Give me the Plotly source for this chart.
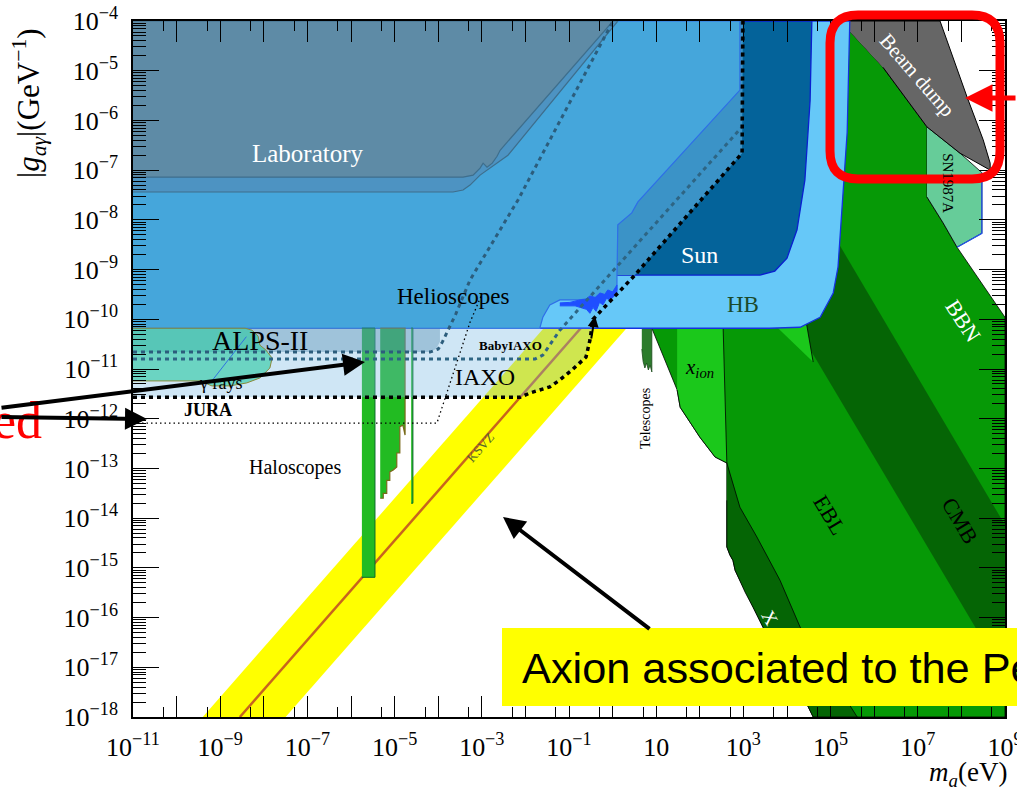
import numpy as np
import plotly.graph_objects as go

W, H = 1017, 793
ML, MR, MT, MB = 133, 12, 21, 76

# ---------------- data (log10 m_a [eV], log10 |g| [GeV^-1]) ----------------
lab1_m = [-11, 0.01, -2.58, -2.65, -2.76, -2.88, -2.97, -3.04, -3.20, -3.43, -11]
lab1_g = [-4, -4, -6.60, -6.72, -6.86, -6.94, -6.86, -6.96, -7.10, -7.14, -7.14]
lab2_m = [-11, 0.12, -2.40, -3.04, -3.27, -3.43, -3.66, -11]
lab2_g = [-4, -4, -6.70, -7.10, -7.30, -7.40, -7.44, -7.44]

helio_m = [-11, 2.92, 2.92, 0.58, 0.44, 0.12, 0.10, 0.10, -0.29, -0.75, -1.21, -1.44, -1.60, -1.67, -11]
helio_g = [-4, -4, -5.39, -7.64, -7.86, -8.10, -9.15, -9.41, -9.55, -9.61, -9.61, -9.71, -9.96, -10.18, -10.18]

sun_m = [0.0, 4.57, 4.53, 4.41, 4.23, 4.00, 3.72, 3.38, 0.0]
sun_g = [-4, -4, -5.6, -7.2, -8.2, -8.77, -9.03, -9.11, -9.11]

mid_m = [0.10, 0.51, 2.97, 2.99, 2.92, 2.92, 0.58, 0.44, 0.12]
mid_g = [-9.11, -9.11, -6.66, -4, -4, -5.39, -7.64, -7.86, -8.10]

hb_m = [-11, 5.44, 5.38, 5.28, 5.17, 5.06, 4.76, 4.30, 3.6, -11]
hb_g = [-4, -4, -6.24, -7.6, -8.95, -9.47, -9.96, -10.16, -10.18, -10.18]

noise_m = [-1.21, -0.98, -0.75, -0.62, -0.52, -0.40, -0.29, -0.18, -0.11, 0.0, 0.10, 0.10,
           0.02, -0.06, -0.14, -0.22, -0.30, -0.38, -0.45, -0.52, -0.60, -0.68, -0.86, -1.21]
noise_g = [-9.67, -9.66, -9.61, -9.60, -9.53, -9.56, -9.47, -9.50, -9.41, -9.45, -9.31, -9.47,
           -9.55, -9.61, -9.58, -9.71, -9.66, -9.84, -9.76, -9.88, -9.80, -9.78, -9.73, -9.73]

green_m = [4.0, 5.22, 6.20, 7.21, 7.21, 7.58, 7.90, 9, 9, 4.60, 4.41, 4.18, 3.91, 3.72, 3.56, 3.45,
           3.22, 3.04, 2.92, 2.81, 2.76, 2.69, 2.62, 2.62, 2.62, 2.35, 2.00, 1.55, 1.48, 0.90, 0.90]
green_g = [-4, -4, -4.93, -6.13, -7.54, -8.06, -8.55, -9.96, -18, -18, -17.66, -17.36, -16.96, -16.66,
           -16.39, -16.19, -15.79, -15.49, -15.25, -15.05, -14.85, -14.74, -14.58, -13.64, -12.89,
           -12.77, -12.37, -11.77, -11.42, -10.18, -9.5]

cmb_m = [4.5, 5.10, 9, 9, 4.23, 4.0]
cmb_g = [-8.35, -8.35, -14.14, -17.2, -10.16, -9.8]

xray_m = [2.62, 2.92, 3.31, 3.84, 4.30, 5.61, 4.60, 4.41, 4.18, 3.91, 3.72, 3.56, 3.45, 3.22,
          3.04, 2.92, 2.81, 2.76, 2.69, 2.62, 2.62]
xray_g = [-12.89, -13.78, -14.38, -15.25, -16.19, -18, -18, -17.66, -17.36, -16.96, -16.66, -16.39,
          -16.19, -15.79, -15.49, -15.25, -15.05, -14.85, -14.74, -14.58, -13.64]

xion_m = [1.48, 2.53, 2.62, 2.35, 2.00, 1.55, 1.48]
xion_g = [-10.0, -10.0, -12.89, -12.77, -12.37, -11.77, -11.42]

sliver_m = [3.70, 4.45, 4.60]
sliver_g = [-10.10, -10.10, -10.86]

tel_m = [0.67, 0.90, 0.90, 0.86, 0.82, 0.78, 0.74, 0.70, 0.67]
tel_g = [-10.0, -10.0, -11.06, -10.92, -11.02, -10.88, -10.98, -10.85, -10.6]

sn_m = [7.21, 7.97, 8.47, 8.47, 7.90, 7.58, 7.21]
sn_g = [-6.13, -6.66, -7.05, -8.27, -8.55, -8.06, -7.54]

beam_m = [5.22, 7.51, 8.13, 8.50, 8.66, 8.66, 7.97, 7.21, 6.20]
beam_g = [-4, -4, -5.53, -6.39, -6.86, -7.00, -6.66, -6.13, -4.93]

qcd_m = [-9.4, -7.5, 0.5, -1.4]
qcd_g = [-18, -18, -10.0, -10.0]
ksvz_m = [-8.55, -0.55]
ksvz_g = [-18, -10.0]

s1_m = [-5.75, -5.45, -5.45, -5.75]
s1_g = [-10.18, -10.18, -15.19, -15.19]
s2_m = [-5.33, -4.76, -4.76, -4.81, -4.88, -4.88, -4.95, -4.95, -5.03, -5.11, -5.11, -5.18, -5.18, -5.26, -5.26, -5.33]
s2_g = [-10.18, -10.18, -12.33, -12.13, -12.16, -12.69, -12.69, -12.97, -13.03, -13.07, -13.24, -13.24, -13.50, -13.50, -13.60, -13.60]
s3_m = [-4.62, -4.58, -4.58, -4.62]
s3_g = [-10.18, -10.18, -13.70, -13.70]

alps_fill_m = [-11, -3.96, -3.96, -4.05, -4.19, -11]
alps_fill_g = [-10.18, -10.18, -10.45, -10.60, -10.66, -10.66]

iaxo_fill_m = [-11, -0.42, -0.45, -0.52, -0.61, -0.93, -1.21, -1.44, -1.89, -2.12, -11]
iaxo_fill_g = [-10.18, -10.18, -10.08, -10.42, -10.76, -11.02, -11.22, -11.36, -11.48, -11.57, -11.57]

gam_m = [-11, -8.43, -8.27, -8.13, -8.09, -7.95, -7.81, -7.86, -8.09, -8.39, -8.78, -9.19, -9.46, -11]
gam_g = [-10.18, -10.18, -10.22, -10.34, -10.52, -10.62, -10.78, -10.98, -11.18, -11.28, -11.34, -11.34, -11.24, -11.24]

alps_m = [-11, -4.19, -4.0, -3.9, -3.6, -3.27, -2.17, 0.01]
alps_g = [-10.66, -10.66, -10.6, -10.45, -9.9, -9.21, -7.60, -4]
baby_m = [-11, -1.78, -1.60, -1.21, 2.97, 2.97]
baby_g = [-10.80, -10.80, -10.72, -10.22, -6.13, -4]
iaxo_m = [-11, -2.12, -1.89, -1.44, -1.21, -0.93, -0.61, -0.52, -0.45, 0.47, 2.97, 2.99]
iaxo_g = [-11.57, -11.57, -11.48, -11.36, -11.22, -11.02, -10.76, -10.42, -10.0, -9.15, -6.66, -4]
jura_m = [-11, -4.03, -3.27, -3.0]
jura_g = [-12.09, -12.09, -10.06, -9.5]

x_exponents = list(range(-11, 10))
y_exponents = list(range(-18, -3))

# region labels: text, log m, log g, angle, color, size
labels = [
    ("Laboratory", -6.99, -6.66, 0, "white", 25),
    ("Helioscopes", -3.66, -9.55, 0, "black", 23),
    ("Sun", 2.00, -8.71, 0, "white", 24),
    ("HB", 2.99, -9.71, 0, "#1b4a2a", 23),
    ("ALPS-II", -8.09, -10.42, 0, "black", 28),
    ("<b>BabyIAXO</b>", -2.35, -10.52, 0, "black", 13),
    ("IAXO", -2.93, -11.16, 0, "black", 24),
    ("<b>JURA</b>", -9.28, -11.83, 0, "black", 18),
    ("γ rays", -9.0, -11.28, 0, "black", 18),
    ("Haloscopes", -7.28, -12.99, 0, "black", 20),
    ("KSVZ", -3.04, -12.57, -48.7, "#55662a", 13),
    ("Telescopes", 0.74, -11.99, -90, "black", 14),
    ("<i>x</i><sub><i>ion</i></sub>", 2.00, -10.98, 0, "black", 21),
    ("EBL", 4.99, -13.94, 59, "black", 22),
    ("CMB", 7.97, -14.04, 59, "black", 22),
    ("BBN", 8.04, -10.02, 57, "white", 22),
    ("X", 3.60, -16.0, 60, "white", 19),
    ("Beam dump", 6.98, -5.09, 49, "white", 21),
    ("SN1987A", 7.69, -7.26, 90, "black", 15),
]


def V(a):
    return [10.0 ** v for v in a]


fig = go.Figure()


def poly(m, g, fill, line="rgba(0,0,0,0)", lw=0.0):
    fig.add_trace(go.Scatter(x=V(m), y=V(g), mode="lines", fill="toself", fillcolor=fill,
                             line=dict(color=line, width=lw), hoverinfo="skip", showlegend=False))


def curve(m, g, color, lw, dash="solid"):
    fig.add_trace(go.Scatter(x=V(m), y=V(g), mode="lines",
                             line=dict(color=color, width=lw, dash=dash),
                             hoverinfo="skip", showlegend=False))


# QCD band
poly(qcd_m, qcd_g, "#ffff00")
curve(ksvz_m, ksvz_g, "#c8641e", 2.5)
# greens
poly(green_m, green_g, "#069906", "black", 0.8)
poly(cmb_m, cmb_g, "#056505")
poly(xray_m, xray_g, "#056505", "black", 0.8)
poly(xion_m, xion_g, "#1bc81b", "black", 0.8)
poly(sliver_m, sliver_g, "#1bc81b", "black", 0.8)
poly(tel_m, tel_g, "#2c7c2c", "#1a4a1a", 0.8)
poly(sn_m, sn_g, "#66cc99", "black", 0.8)
curve([8.47, 8.47, 7.90], [-7.05, -8.27, -8.55], "#2255ee", 1.3)
poly(beam_m, beam_g, "#666666", "black", 1.0)
# HB, Sun, helioscopes, laboratory
poly(hb_m, hb_g, "#66c8f8", "#1432e0", 1.3)
poly(sun_m, sun_g, "#04639a", "#0a1fd0", 1.3)
poly(mid_m, mid_g, "#3b93c7")
poly(helio_m, helio_g, "#45a6db", "#2f6fe8", 1.2)
poly(noise_m, noise_g, "#1f4fff", "#1f4fff", 1.0)
poly(lab2_m, lab2_g, "#4d93c2", "#3e6e8c", 1.2)
poly(lab1_m, lab1_g, "#5e8ba6", "#3e6e8c", 1.2)
# haloscopes
poly(s1_m, s1_g, "#22bb22", "#0b6b2b", 1.0)
poly(s2_m, s2_g, "#22bb22", "#7a6a1a", 1.2)
poly(s3_m, s3_g, "#22bb22", "#0b6b2b", 1.0)
# projected regions
poly(iaxo_fill_m, iaxo_fill_g, "rgba(118,183,226,0.35)")
poly(alps_fill_m, alps_fill_g, "rgba(70,130,170,0.35)")
poly(gam_m, gam_g, "rgba(40,200,160,0.6)", "#8b8b3a", 1.0)
curve([-9.2, -8.4], [-11.25, -10.35], "#3070e0", 1.0)
# sensitivity curves
curve(alps_m, alps_g, "#2c5d7c", 3, "4px,4px")
curve(baby_m, baby_g, "#2e6584", 3, "4px,4px")
curve(iaxo_m, iaxo_g, "black", 3.5, "4px,4px")
curve(jura_m, jura_g, "black", 1.3, "1.5px,3px")


def tl(k):
    if k == 1:
        return "10"
    if k < 0:
        return "10<sup>\u2212%d</sup>" % (-k)
    return "10<sup>%d</sup>" % k


axis_font = dict(family="Liberation Serif", size=26, color="black")

fig.update_xaxes(type="log", range=[-11, 9], showgrid=False, zeroline=False,
                 showline=True, linecolor="black", linewidth=1.5, mirror="ticks",
                 ticks="inside", ticklen=21, tickwidth=1.3, tickcolor="black",
                 tickmode="array", tickvals=[10.0 ** k for k in x_exponents],
                 ticktext=[tl(k) if k % 2 == 1 else "" for k in x_exponents],
                 tickfont=axis_font, ticklabelstandoff=6, ticklabeloverflow="allow",
                 minor=dict(ticks="inside", ticklen=10, tickwidth=1, tickcolor="black",
                            tickmode="array", tickvals=[5 * 10.0 ** (k - 1) for k in x_exponents[1:]]))
fig.update_yaxes(type="log", range=[-18, -4], showgrid=False, zeroline=False,
                 showline=True, linecolor="black", linewidth=1.5, mirror="ticks",
                 ticks="inside", ticklen=26, tickwidth=1.3, tickcolor="black",
                 tickmode="array", tickvals=[10.0 ** k for k in y_exponents],
                 ticktext=[tl(k) for k in y_exponents],
                 tickfont=axis_font, ticklabelstandoff=8, ticklabeloverflow="allow",
                 minor=dict(ticks="inside", ticklen=13, tickwidth=1, tickcolor="black",
                            tickmode="array",
                            tickvals=[j * 10.0 ** k for k in y_exponents[:-1] for j in range(2, 10)]))

ann = []
for text, lm, lg, ang, col, sz in labels:
    ann.append(dict(x=lm, y=lg, xref="x", yref="y", text=text, showarrow=False, textangle=ang,
                    xanchor="center", yanchor="middle",
                    font=dict(family="Liberation Serif", size=sz, color=col)))

PW, PH = W - ML - MR, H - MT - MB


def fx(px):
    return (px - ML) / PW


def fy(py):
    return (H - MB - py) / PH


# axis titles
ann.append(dict(x=fx(29), y=fy(103), xref="paper", yref="paper", showarrow=False, textangle=-90,
                xanchor="center", yanchor="middle",
                text="|<i>g</i><sub><i>a\u03b3</i></sub>|(GeV<sup>\u22121</sup>)",
                font=dict(family="Liberation Serif", size=31, color="black")))
ann.append(dict(x=fx(968), y=fy(774), xref="paper", yref="paper", showarrow=False,
                xanchor="center", yanchor="middle",
                text="<i>m</i><sub><i>a</i></sub>(eV)",
                font=dict(family="Liberation Serif", size=27, color="black")))

# slide overlays
shapes = []
L, T, R, B, r = 830, 15, 1000, 179, 28
path = (f"M {fx(L + r)},{fy(T)} L {fx(R - r)},{fy(T)} Q {fx(R)},{fy(T)} {fx(R)},{fy(T + r)} "
        f"L {fx(R)},{fy(B - r)} Q {fx(R)},{fy(B)} {fx(R - r)},{fy(B)} L {fx(L + r)},{fy(B)} "
        f"Q {fx(L)},{fy(B)} {fx(L)},{fy(B - r)} L {fx(L)},{fy(T + r)} Q {fx(L)},{fy(T)} {fx(L + r)},{fy(T)} Z")
shapes.append(dict(type="path", path=path, xref="paper", yref="paper",
                   line=dict(color="#ff0000", width=9), layer="above"))
shapes.append(dict(type="rect", xref="paper", yref="paper", x0=fx(502), x1=fx(1040), y0=fy(706), y1=fy(628),
                   fillcolor="#ffff00", line=dict(width=0), layer="above"))

ann.append(dict(x=fx(520), y=fy(668), xref="paper", yref="paper", xanchor="left", yanchor="middle",
                showarrow=False, text="Axion associated to the Pe",
                font=dict(family="Liberation Sans", size=43.3, color="black")))
ann.append(dict(x=fx(44), y=fy(420), xref="paper", yref="paper", xanchor="right", yanchor="middle",
                showarrow=False, text="ed", font=dict(family="Liberation Serif", size=52, color="#ff0000")))


def arrow(tip, tail, color, w):
    ann.append(dict(x=fx(tip[0]), y=fy(tip[1]), xref="paper", yref="paper", text="", showarrow=True,
                    ax=tail[0] - tip[0], ay=tail[1] - tip[1], axref="pixel", ayref="pixel",
                    arrowhead=2, arrowsize=1.1, arrowwidth=w, arrowcolor=color))


arrow((365, 362), (-5, 408), "black", 4)
arrow((147, 419), (-5, 417), "black", 4)
arrow((503, 517), (651, 630), "black", 4)
arrow((965, 98), (1040, 98), "#ff0000", 5)
arrow((595, 316), (591, 340), "black", 2)

fig.update_layout(width=W, height=H, margin=dict(l=ML, r=MR, t=MT, b=MB, autoexpand=False),
                  plot_bgcolor="white", paper_bgcolor="white", showlegend=False,
                  annotations=ann, shapes=shapes)

fig.write_html("out.html", config={"displayModeBar": False},
               post_script="document.body.style.margin='0';document.body.style.overflow='hidden';")
